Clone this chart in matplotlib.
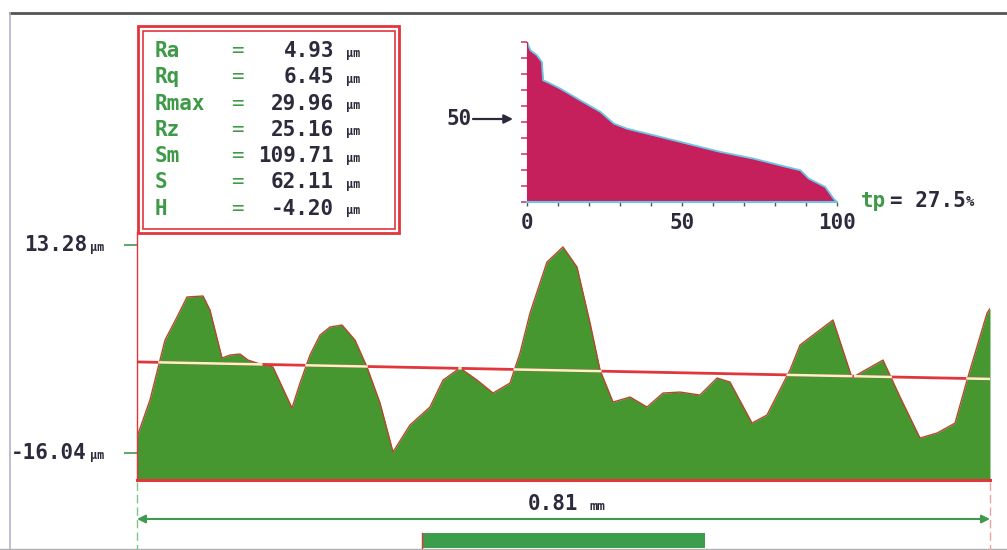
import numpy as np
import matplotlib
matplotlib.use("Agg")
import matplotlib.pyplot as plt
from matplotlib.patches import Rectangle

# ---------------- data ----------------
# roughness profile: position along trace (um) and height (um)
profile_x_um = [0, 12.3, 26.6, 38.0, 47.5, 62.7, 69.3, 80.7, 88.3, 97.8,
                105.4, 116.8, 129.1, 147.2, 154.8, 164.3, 173.8, 183.3, 194.7, 207.0,
                218.4, 230.8, 243.1, 259.2, 278.2, 290.6, 306.7, 322.9, 338.1, 354.2,
                363.7, 373.2, 389.3, 404.5, 417.8, 430.2, 439.7, 452.0, 468.2, 484.3,
                499.5, 515.6, 534.6, 550.8, 563.1, 584.0, 598.2, 620.1, 629.6, 660.9,
                679.0, 686.6, 708.4, 724.6, 743.5, 759.7, 776.8, 788.2, 807.2, 810.0]
profile_z_um = [-13.79, -8.58, -0.12, 3.13, 5.95, 6.09, 4.11, -2.65, -2.23, -2.09,
                -2.94, -3.50, -3.92, -9.70, -6.18, -2.23, 0.59, 1.72, 2.00, -0.12,
                -3.92, -9.00, -15.90, -12.10, -9.56, -5.76, -4.06, -5.76, -7.59, -6.18,
                -1.95, 3.69, 10.88, 13.00, 10.18, 2.28, -4.35, -8.86, -8.15, -9.56,
                -7.59, -7.45, -7.87, -5.47, -6.04, -11.82, -10.69, -4.35, -0.82, 2.71,
                -5.47, -4.77, -2.94, -8.15, -13.93, -13.23, -11.82, -5.76, 3.69, 4.30]
# mean line
mean_x_um = [0, 810.0]
mean_z_um = [-3.2, -5.6]
# y-axis tick values
ytick_values = [13.28, -16.04]
trace_length_mm = 0.81

# bearing ratio (Abbott) curve
bearing_tp = [0, 1.1, 3.2, 4.8, 5.2, 6.5, 10.8, 17.2, 23.7, 28.0, 32.3, 40.9,
              51.6, 62.4, 73.1, 81.7, 88.2, 90.9, 96.2, 98.9, 100]
bearing_depth = [100, 94.8, 91.7, 87.5, 76.0, 75.0, 70.8, 63.5, 56.3, 49.0, 45.8, 41.7,
                 36.5, 31.3, 27.1, 22.9, 19.8, 14.6, 9.4, 2.1, 0]
inset_ticklabels = {0: "0", 50: "50", 100: "100"}
tp_value = 27.5

# parameter table
stat_labels = ["Ra", "Rq", "Rmax", "Rz", "Sm", "S", "H"]
stat_values = [4.93, 6.45, 29.96, 25.16, 109.71, 62.11, -4.20]

# ---------------- style ----------------
MONO = "DejaVu Sans Mono"
DARK = "#2e2a3c"
GREEN_TXT = "#3f9a48"
RED = "#e0363c"
FILL_GREEN = "#46972f"
MAGENTA = "#c51f5c"
FS = 15

fig = plt.figure(figsize=(10.07, 5.5), dpi=100)
fig.patch.set_facecolor("white")

# overlay in pixel coordinates for frame/decoration
ov = fig.add_axes([0, 0, 1, 1])
ov.set_xlim(0, 1007)
ov.set_ylim(550, 0)
ov.axis("off")

ov.plot([10, 1007], [13, 13], color="#555555", lw=2)
ov.plot([10, 10], [13, 550], color="#b8b0c8", lw=1.2)
ov.plot([0, 1007], [549, 549], color="#b0b0b0", lw=1)

# parameter box
ov.add_patch(Rectangle((138, 26), 261, 207, fill=False, ec=RED, lw=2))
ov.add_patch(Rectangle((142.5, 30.5), 252, 198, fill=False, ec=RED, lw=1.2))
for i, (lab, val) in enumerate(zip(stat_labels, stat_values)):
    y = 51 + i * 26.3
    ov.text(155, y, lab, color=GREEN_TXT, family=MONO, fontsize=FS,
            fontweight="bold", va="center", ha="left")
    ov.text(237, y, "=", color=GREEN_TXT, family=MONO, fontsize=FS,
            va="center", ha="center")
    ov.text(334, y, f"{val:.2f}", color=DARK, family=MONO, fontsize=FS,
            fontweight="bold", va="center", ha="right")
    ov.text(346, y + 2, "µm", color=DARK, family=MONO, fontsize=8.5,
            fontweight="bold", va="center", ha="left")

# ---------------- main profile axes ----------------
px_per_um = 208 / (ytick_values[0] - ytick_values[1])
y_top = ytick_values[0] + 13 / px_per_um
y_bot = ytick_values[1] - 27 / px_per_um
ax = fig.add_axes([137 / 1007, 70 / 550, 853 / 1007, 248 / 550])
ax.patch.set_alpha(0)
ax.set_xlim(0, profile_x_um[-1])
ax.set_ylim(y_bot, y_top)
ax.fill_between(profile_x_um, profile_z_um, y_bot, color=FILL_GREEN, lw=0)
ax.plot(profile_x_um, profile_z_um, color="#b5472f", lw=1)

xs = np.linspace(0, profile_x_um[-1], 3000)
prof = np.interp(xs, profile_x_um, profile_z_um)
mean = np.interp(xs, mean_x_um, mean_z_um)
ax.plot(mean_x_um, mean_z_um, color=RED, lw=2)
ax.plot(xs, np.where(prof > mean, mean, np.nan), color="#f3f6c8", lw=1.8)

for s in ["top", "right"]:
    ax.spines[s].set_visible(False)
ax.spines["left"].set_color(RED)
ax.spines["left"].set_linewidth(1)
ax.spines["bottom"].set_color(RED)
ax.spines["bottom"].set_linewidth(2.2)
ax.set_xticks([])
ax.set_yticks(ytick_values)
ax.set_yticklabels([])
ax.tick_params(axis="y", length=9.5, width=1.2, color=GREEN_TXT, direction="out")
for v in ytick_values:
    ax.annotate(f"{v:.2f}", xy=(0, v), xycoords=("axes fraction", "data"),
                xytext=(-50, 0), textcoords="offset pixels", ha="right", va="center",
                family=MONO, fontsize=FS, fontweight="bold", color=DARK,
                annotation_clip=False)
    ax.annotate("µm", xy=(0, v), xycoords=("axes fraction", "data"),
                xytext=(-47, -2), textcoords="offset pixels", ha="left", va="center",
                family=MONO, fontsize=8.5, fontweight="bold", color=DARK,
                annotation_clip=False)

# bottom dimension line
ov.annotate("", xy=(137, 519), xytext=(990, 519),
            arrowprops=dict(arrowstyle="<|-|>", color="#3f9a4f", lw=1.5,
                            mutation_scale=12, shrinkA=0, shrinkB=0))
ov.text(578, 504, f"{trace_length_mm:.2f}", ha="right", va="center", family=MONO,
        fontsize=FS, fontweight="bold", color=DARK)
ov.text(589, 506, "mm", ha="left", va="center", family=MONO, fontsize=9.5,
        fontweight="bold", color=DARK)
ov.plot([137, 137], [482, 550], color="#7cc48a", lw=1, ls=(0, (6, 3)))
ov.plot([990, 990], [482, 550], color="#f0a0a0", lw=1, ls=(0, (6, 3)))
ov.add_patch(Rectangle((422, 533), 283, 15, color="#3c9e4c", lw=0))
ov.plot([422, 422], [533, 548], color=RED, lw=1)

# ---------------- bearing ratio inset ----------------
ax2 = fig.add_axes([527 / 1007, 348 / 550, 310 / 1007, 160 / 550])
ax2.patch.set_alpha(0)
ax2.set_xlim(0, 100)
ax2.set_ylim(0, 100)
ax2.fill_between(bearing_tp, bearing_depth, 0, color=MAGENTA, lw=0)
ax2.plot(bearing_tp, bearing_depth, color="#6cc4e6", lw=1.3)
for s in ["top", "right"]:
    ax2.spines[s].set_visible(False)
ax2.spines["left"].set_color(MAGENTA)
ax2.spines["bottom"].set_color("#6cc4e6")
ax2.spines["bottom"].set_linewidth(1.5)
ax2.set_xticks(np.arange(0, 101, 10))
ax2.set_xticklabels([inset_ticklabels.get(int(t), "") for t in np.arange(0, 101, 10)],
                    family=MONO, fontsize=FS, fontweight="bold", color=DARK)
ax2.tick_params(axis="x", length=3, width=1, color="#555555", pad=5)
ax2.set_yticks(np.arange(0, 101, 10))
ax2.set_yticklabels([])
ax2.tick_params(axis="y", length=4.5, width=1.2, color="#c8407a")

ov.text(472, 119, "50", ha="right", va="center", family=MONO, fontsize=FS,
        fontweight="bold", color=DARK)
ov.annotate("", xy=(513, 119), xytext=(473, 119),
            arrowprops=dict(arrowstyle="-|>", color=DARK, lw=1.6,
                            mutation_scale=13, shrinkA=0, shrinkB=0))

ov.text(861, 201, "tp", ha="left", va="center", family=MONO, fontsize=FS,
        fontweight="bold", color=GREEN_TXT)
ov.text(890, 201, f"= {tp_value:.1f}", ha="left", va="center", family=MONO,
        fontsize=FS, fontweight="bold", color=DARK)
ov.text(966, 202, "%", ha="left", va="center", family=MONO, fontsize=10,
        fontweight="bold", color=DARK)

fig.savefig("out.png", dpi=100)
